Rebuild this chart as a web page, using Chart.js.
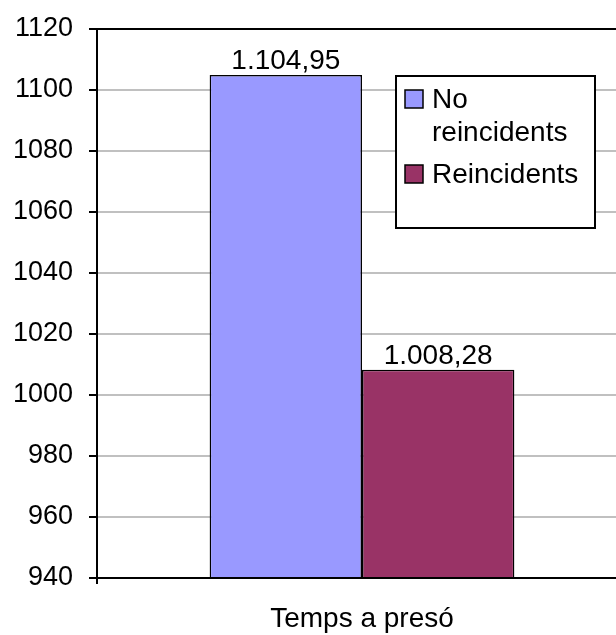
<!DOCTYPE html>
<html>
<head>
<meta charset="utf-8">
<script src="https://cdn.jsdelivr.net/npm/chart.js@4/dist/chart.umd.min.js"></script>
<style>
  html, body { margin: 0; padding: 0; background: #fff; overflow: hidden; }
  #wrap { width: 632px; height: 635px; position: relative; }
</style>
</head>
<body>
<div id="wrap"><canvas id="c"></canvas></div>
<script>
// Average time in prison, by group
const categories = ['Temps a presó'];
const seriesNames = ['No reincidents', 'Reincidents'];
const noReincidents = [1104.95];
const reincidents = [1008.28];
const seriesColors = ['#9999FF', '#993366'];
const yMin = 940, yMax = 1120, yStep = 20;

const FONT = '"Liberation Sans", Arial, sans-serif';
const FS_TICK = 27;
const FS = 28;

// Catalan number format: 1.104,95
function fmt(v) {
  const parts = v.toFixed(2).split('.');
  const intPart = parts[0].replace(/\B(?=(\d{3})+(?!\d))/g, '.');
  return intPart + ',' + parts[1];
}

const valueLabels = {
  id: 'valueLabels',
  afterDatasetsDraw(chart) {
    const ctx = chart.ctx;
    ctx.save();
    ctx.font = FS + 'px ' + FONT;
    ctx.fillStyle = '#000';
    ctx.textAlign = 'center';
    ctx.textBaseline = 'alphabetic';
    chart.data.datasets.forEach((ds, i) => {
      chart.getDatasetMeta(i).data.forEach((bar, j) => {
        ctx.fillText(fmt(ds.data[j]), bar.x, bar.y - 6);
      });
    });
    ctx.restore();
  }
};

const frame = {
  id: 'frame',
  afterDatasetsDraw(chart) {
    const { ctx, chartArea: a } = chart;
    ctx.save();
    ctx.strokeStyle = '#000';
    ctx.lineWidth = 2;
    ctx.beginPath();
    ctx.moveTo(a.left, a.bottom);
    ctx.lineTo(a.left, a.top);
    ctx.lineTo(a.right, a.top);
    ctx.moveTo(a.left - 8, a.bottom);
    ctx.lineTo(a.right, a.bottom);
    ctx.moveTo(a.left, a.bottom);
    ctx.lineTo(a.left, a.bottom + 6);
    ctx.stroke();
    ctx.restore();
  }
};

const boxLegend = {
  id: 'boxLegend',
  afterDraw(chart) {
    const { ctx, chartArea: a } = chart;
    const x = a.left + 299, y = a.top + 47, w = 199, h = 152;
    ctx.save();
    ctx.fillStyle = '#fff';
    ctx.fillRect(x, y, w, h);
    ctx.strokeStyle = '#000';
    ctx.lineWidth = 2;
    ctx.strokeRect(x, y, w, h);
    ctx.font = FS + 'px ' + FONT;
    ctx.textBaseline = 'middle';
    ctx.textAlign = 'left';
    const items = [
      { lines: ['No', 'reincidents'], color: seriesColors[0], sy: y + 14 },
      { lines: ['Reincidents'], color: seriesColors[1], sy: y + 89 }
    ];
    items.forEach(it => {
      ctx.fillStyle = it.color;
      ctx.fillRect(x + 9, it.sy, 18, 18);
      ctx.lineWidth = 1.5;
      ctx.strokeStyle = '#000';
      ctx.strokeRect(x + 9, it.sy, 18, 18);
      ctx.fillStyle = '#000';
      it.lines.forEach((t, k) => {
        ctx.fillText(t, x + 36, it.sy + 10 + k * 33);
      });
    });
    ctx.restore();
  }
};

new Chart(document.getElementById('c'), {
  type: 'bar',
  data: {
    labels: categories,
    datasets: [
      { label: seriesNames[0], data: noReincidents, backgroundColor: seriesColors[0], borderColor: '#000', borderWidth: 1.5 },
      { label: seriesNames[1], data: reincidents, backgroundColor: seriesColors[1], borderColor: '#000', borderWidth: 1.5 }
    ]
  },
  options: {
    responsive: true,
    maintainAspectRatio: false,
    animation: false,
    layout: { padding: { top: 29, left: 0, right: 5, bottom: 0 } },
    datasets: { bar: { barPercentage: 1, categoryPercentage: 0.575 } },
    plugins: { legend: { display: false }, tooltip: { enabled: false } },
    scales: {
      x: {
        grid: { display: false },
        border: { display: false },
        ticks: { color: '#000', font: { family: FONT, size: FS }, padding: 16 },
        afterFit(s) { s.height = 57; s.paddingLeft = 0; s.paddingRight = 0; }
      },
      y: {
        min: yMin, max: yMax,
        border: { display: false },
        grid: { color: '#c0c0c0', lineWidth: 2, tickColor: '#000', tickLength: 8 },
        ticks: {
          stepSize: yStep, color: '#000', font: { family: FONT, size: FS_TICK }, padding: 16,
          callback: v => String(v)
        },
        afterFit(s) { s.width = 97; s.paddingTop = 0; s.paddingBottom = 0; }
      }
    }
  },
  plugins: [valueLabels, frame, boxLegend]
});
</script>
</body>
</html>
